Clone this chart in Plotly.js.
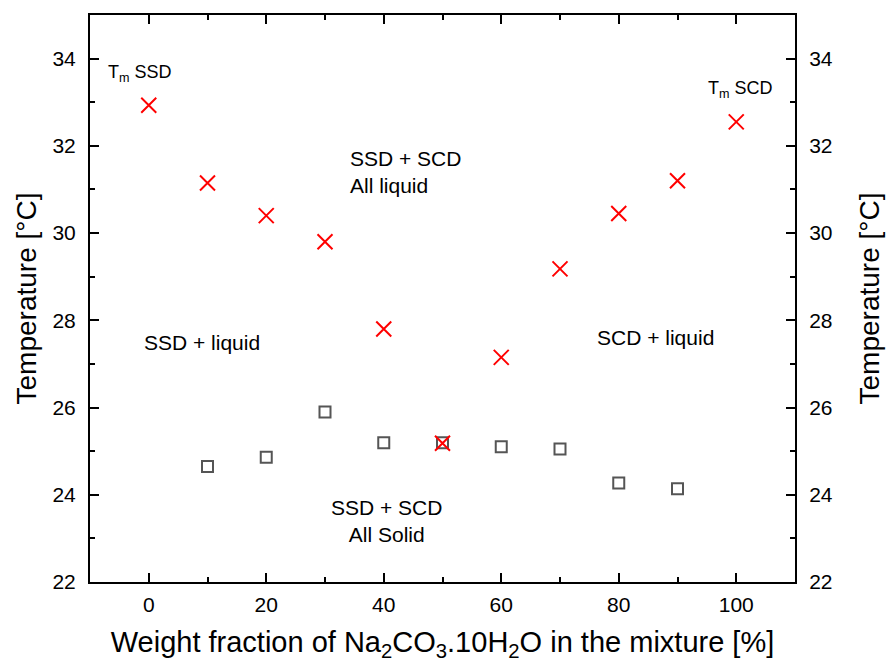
<!DOCTYPE html>
<html>
<head>
<meta charset="utf-8">
<script src="https://cdn.plot.ly/plotly-3.0.1.min.js"></script>
<style>html,body{margin:0;padding:0;background:#fff;}#chart{width:889px;height:665px;}</style>
</head>
<body>
<div id="chart"></div>
<script>
const meltX = [0, 10, 20, 30, 40, 50, 60, 70, 80, 90, 100];
const meltT = [32.93, 31.15, 30.4, 29.8, 27.8, 25.18, 27.15, 29.18, 30.45, 31.2, 32.55];
const solidX = [10, 20, 30, 40, 50, 60, 70, 80, 90];
const solidT = [24.65, 24.86, 25.9, 25.19, 25.19, 25.1, 25.05, 24.27, 24.14];
const regionLabels = ["T<sub>m</sub> SSD", "T<sub>m</sub> SCD", "SSD + SCD<br>All liquid", "SSD + liquid", "SCD + liquid", "SSD + SCD<br>All Solid"];

const font = "Liberation Sans, Arial, sans-serif";
const traces = [
  {x: solidX, y: solidT, mode: "markers", type: "scatter",
   marker: {symbol: "square-open", size: 11, color: "#555555", line: {width: 2, color: "#555555"}}},
  {x: meltX, y: meltT, mode: "markers", type: "scatter",
   marker: {symbol: "x-thin-open", size: 15, color: "#ff0000", line: {width: 2, color: "#ff0000"}}}
];
const axisCommon = {
  showline: true, linecolor: "#000", linewidth: 2, ticks: "inside", ticklen: 9, tickwidth: 2, tickcolor: "#000",
  showgrid: false, zeroline: false, ticklabelstandoff: 8, tickfont: {family: font, size: 21, color: "#000"}
};
const layout = {
  width: 889, height: 665, showlegend: false,
  paper_bgcolor: "#fff", plot_bgcolor: "#fff",
  margin: {l: 90, r: 94, t: 15, b: 83},
  font: {family: font, color: "#000"},
  xaxis: Object.assign({}, axisCommon, {
    range: [-10, 110], dtick: 20, tick0: 0, mirror: "ticks", ticklabelstandoff: 3,
    minor: {dtick: 10, tick0: 0, ticks: "inside", ticklen: 5, tickwidth: 2, tickcolor: "#000"},
    title: {text: "Weight fraction of Na<sub>2</sub>CO<sub>3</sub>.10H<sub>2</sub>O in the mixture [%]", font: {family: font, size: 29}, standoff: 16}
  }),
  yaxis: Object.assign({}, axisCommon, {
    range: [22, 35], dtick: 2, tick0: 22, mirror: "ticks",
    minor: {dtick: 1, tick0: 22, ticks: "inside", ticklen: 5, tickwidth: 2, tickcolor: "#000"},
    title: {text: "Temperature [°C]", font: {family: font, size: 28}, standoff: 8}
  }),
  yaxis2: Object.assign({}, axisCommon, {
    range: [22, 35], dtick: 2, tick0: 22, overlaying: "y", side: "right", matches: "y",
    minor: {dtick: 1, tick0: 22, ticks: "inside", ticklen: 5, tickwidth: 2, tickcolor: "#000"},
    title: {text: "Temperature [°C]", font: {family: font, size: 28}, standoff: 28}
  }),
  annotations: [
    {x: -1.5, y: 33.66, text: regionLabels[0], showarrow: false, font: {size: 18}},
    {x: 100.7, y: 33.3, text: regionLabels[1], showarrow: false, font: {size: 18}},
    {x: 33.9, y: 31.41, text: regionLabels[2], showarrow: false, xanchor: "left", align: "left", font: {size: 21}},
    {x: 9, y: 27.5, text: regionLabels[3], showarrow: false, font: {size: 21}},
    {x: 86.2, y: 27.6, text: regionLabels[4], showarrow: false, font: {size: 21}},
    {x: 40.5, y: 23.4, text: regionLabels[5], showarrow: false, align: "center", font: {size: 21}}
  ]
};
// invisible helper trace so the right axis is drawn
traces.push({x: solidX, y: solidT, yaxis: "y2", mode: "markers", type: "scatter", hoverinfo: "skip", marker: {opacity: 0}});
Plotly.newPlot("chart", traces, layout, {displayModeBar: false, staticPlot: true});
</script>
</body>
</html>
